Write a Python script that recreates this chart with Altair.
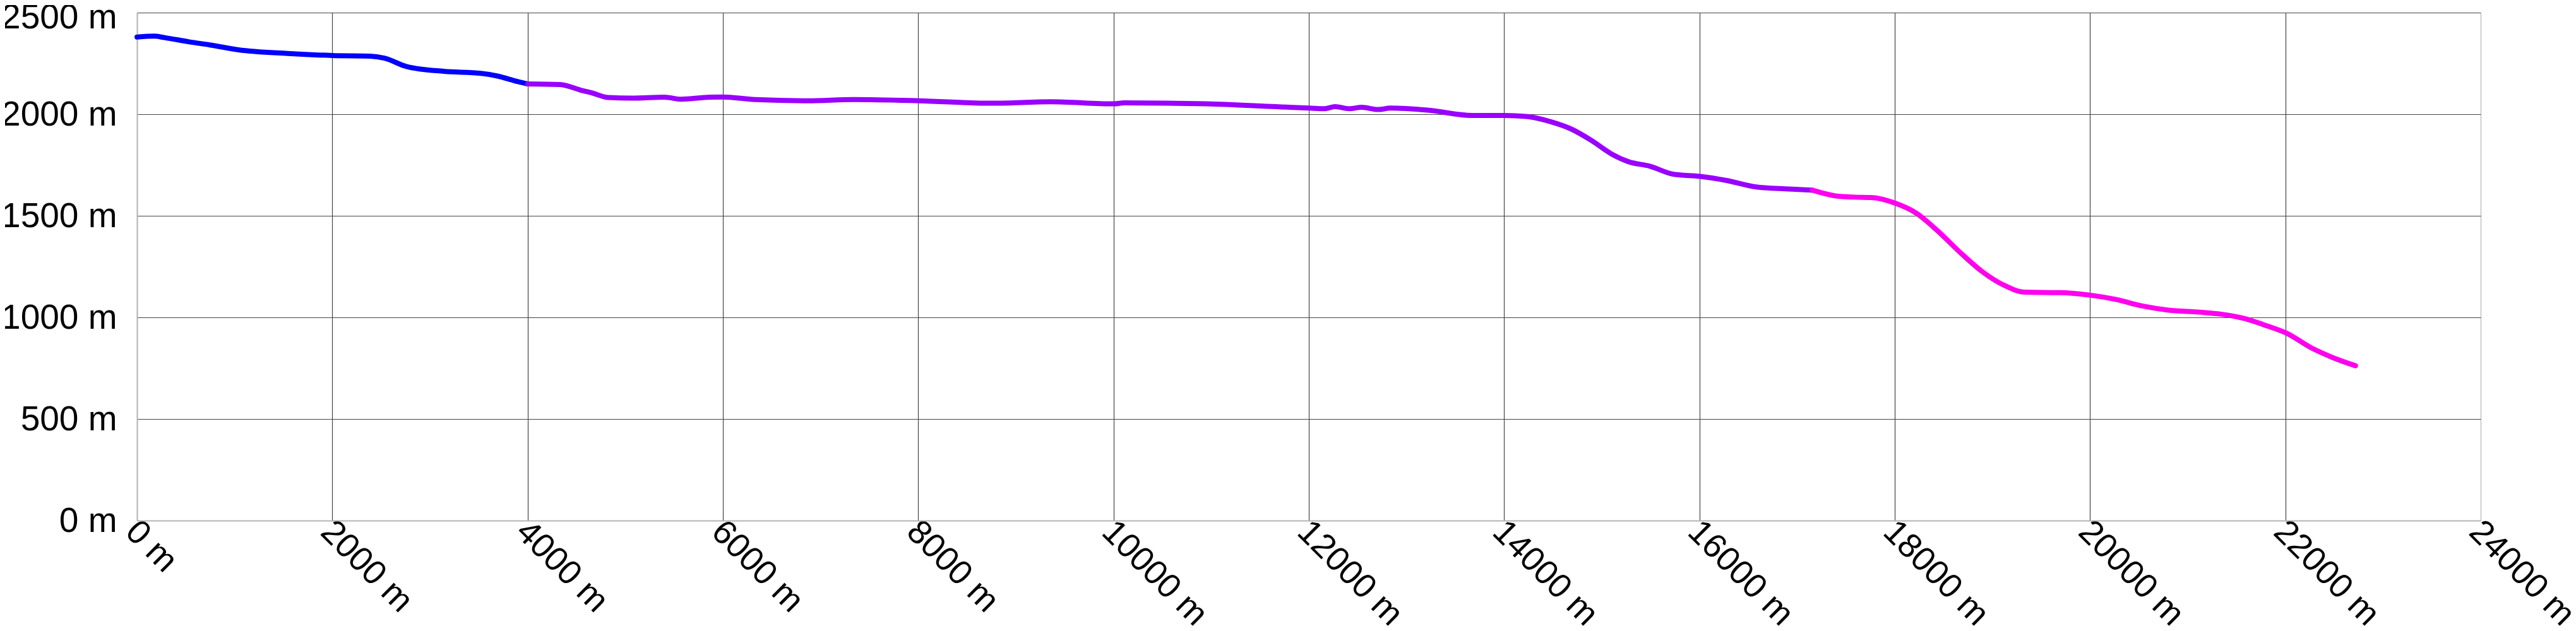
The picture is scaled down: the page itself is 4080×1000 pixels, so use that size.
import altair as alt
import pandas as pd

# distance (m) and elevation (m) for the three coloured sections of the profile
blue_dist = [0, 177, 282, 535, 745, 1040, 1544, 2000, 2386, 2533, 2764, 3143, 3521, 3690, 3901, 4001]
blue_elev = [2380, 2384, 2377, 2356, 2341, 2317, 2299, 2289, 2286, 2276, 2234, 2211, 2201, 2188, 2160, 2149]

purple_dist = [4001, 4333, 4548, 4656, 4826, 5066, 5402, 5570, 5865, 5999, 6327, 6875, 7337, 8010,
               8767, 9356, 10004, 10113, 10955, 11662, 12007, 12163, 12268, 12415, 12541, 12710,
               12836, 13214, 13677, 14006, 14224, 14476, 14687, 14897, 15107, 15275, 15486, 15738,
               16003, 16285, 16579, 16916, 17157]
purple_elev = [2149, 2146, 2118, 2105, 2082, 2079, 2084, 2074, 2084, 2085, 2072, 2066, 2072, 2066,
               2054, 2061, 2051, 2056, 2051, 2037, 2030, 2027, 2037, 2027, 2034, 2023,
               2030, 2020, 1994, 1994, 1989, 1963, 1927, 1870, 1802, 1766, 1745, 1704,
               1694, 1673, 1642, 1632, 1626]

magenta_dist = [17157, 17394, 17588, 17758, 18005, 18220, 18443, 18666, 18888, 19111, 19334, 19690,
                20006, 20267, 20526, 20800, 21123, 21339, 21576, 21813, 22013, 22265, 22481, 22718]
magenta_elev = [1626, 1598, 1592, 1590, 1562, 1513, 1424, 1321, 1228, 1160, 1124, 1122,
                1109, 1088, 1057, 1036, 1026, 1016, 995, 958, 922, 850, 803, 762]

seg_names = ["s1", "s2", "s3"]
seg_colors = ["#0000ff", "#9900ff", "#ff00ee"]

x_ticks = list(range(0, 24001, 2000))
y_ticks = [0, 500, 1000, 1500, 2000, 2500]

rows = []
for name, dd, ee in zip(seg_names, [blue_dist, purple_dist, magenta_dist],
                        [blue_elev, purple_elev, magenta_elev]):
    for d, e in zip(dd, ee):
        rows.append({"dist": d, "elev": e, "seg": name})
df = pd.DataFrame(rows)

frame_color = "#b4b4b4"
grid_color = "#444444"

chart = alt.Chart(df).mark_line(
    strokeWidth=8, strokeCap="round", strokeJoin="round", interpolate="monotone"
).encode(
    x=alt.X(
        "dist:Q",
        scale=alt.Scale(domain=[0, 24000], nice=False, zero=False),
        axis=alt.Axis(
            values=x_ticks, labelExpr="datum.value + ' m'", labelAngle=45,
            labelAlign="left", labelBaseline="middle", labelPadding=9, labelOffset=-10,
            labelFontSize=54,
            ticks=False, tickSize=0, title=None, grid=True,
            gridColor={"condition": {"test": "datum.value === 0 || datum.value === 24000",
                                     "value": frame_color}, "value": grid_color},
            gridWidth=1.2, domainColor=frame_color, domainWidth=2,
            labelOverlap=False, labelFlush=False, labelLimit=0,
        ),
    ),
    y=alt.Y(
        "elev:Q",
        scale=alt.Scale(domain=[0, 2500], nice=False),
        axis=alt.Axis(
            values=y_ticks, labelExpr="datum.value + ' m'", labelPadding=32,
            labelOffset={"condition": {"test": "datum.value === 2500", "value": 7}, "value": 0},
            ticks=False, tickSize=0, title=None, grid=True,
            gridColor={"condition": {"test": "datum.value === 0", "value": frame_color},
                       "value": grid_color},
            gridWidth=1.2, domainColor=frame_color, domainWidth=2,
            labelOverlap=False, labelFlush=False, labelLimit=0,
        ),
    ),
    color=alt.Color("seg:N", scale=alt.Scale(domain=seg_names, range=seg_colors), legend=None),
).properties(
    width=3712,
    height=805,
    autosize=alt.AutoSizeParams(type="none"),
    padding={"left": 209, "top": 12, "right": 143, "bottom": 172},
).configure_view(
    strokeWidth=0
).configure_axis(
    labelFont="Liberation Sans", labelFontSize=55, labelColor="#000000"
)

chart.save("out.html", embed_options={"renderer": "svg", "actions": False})
